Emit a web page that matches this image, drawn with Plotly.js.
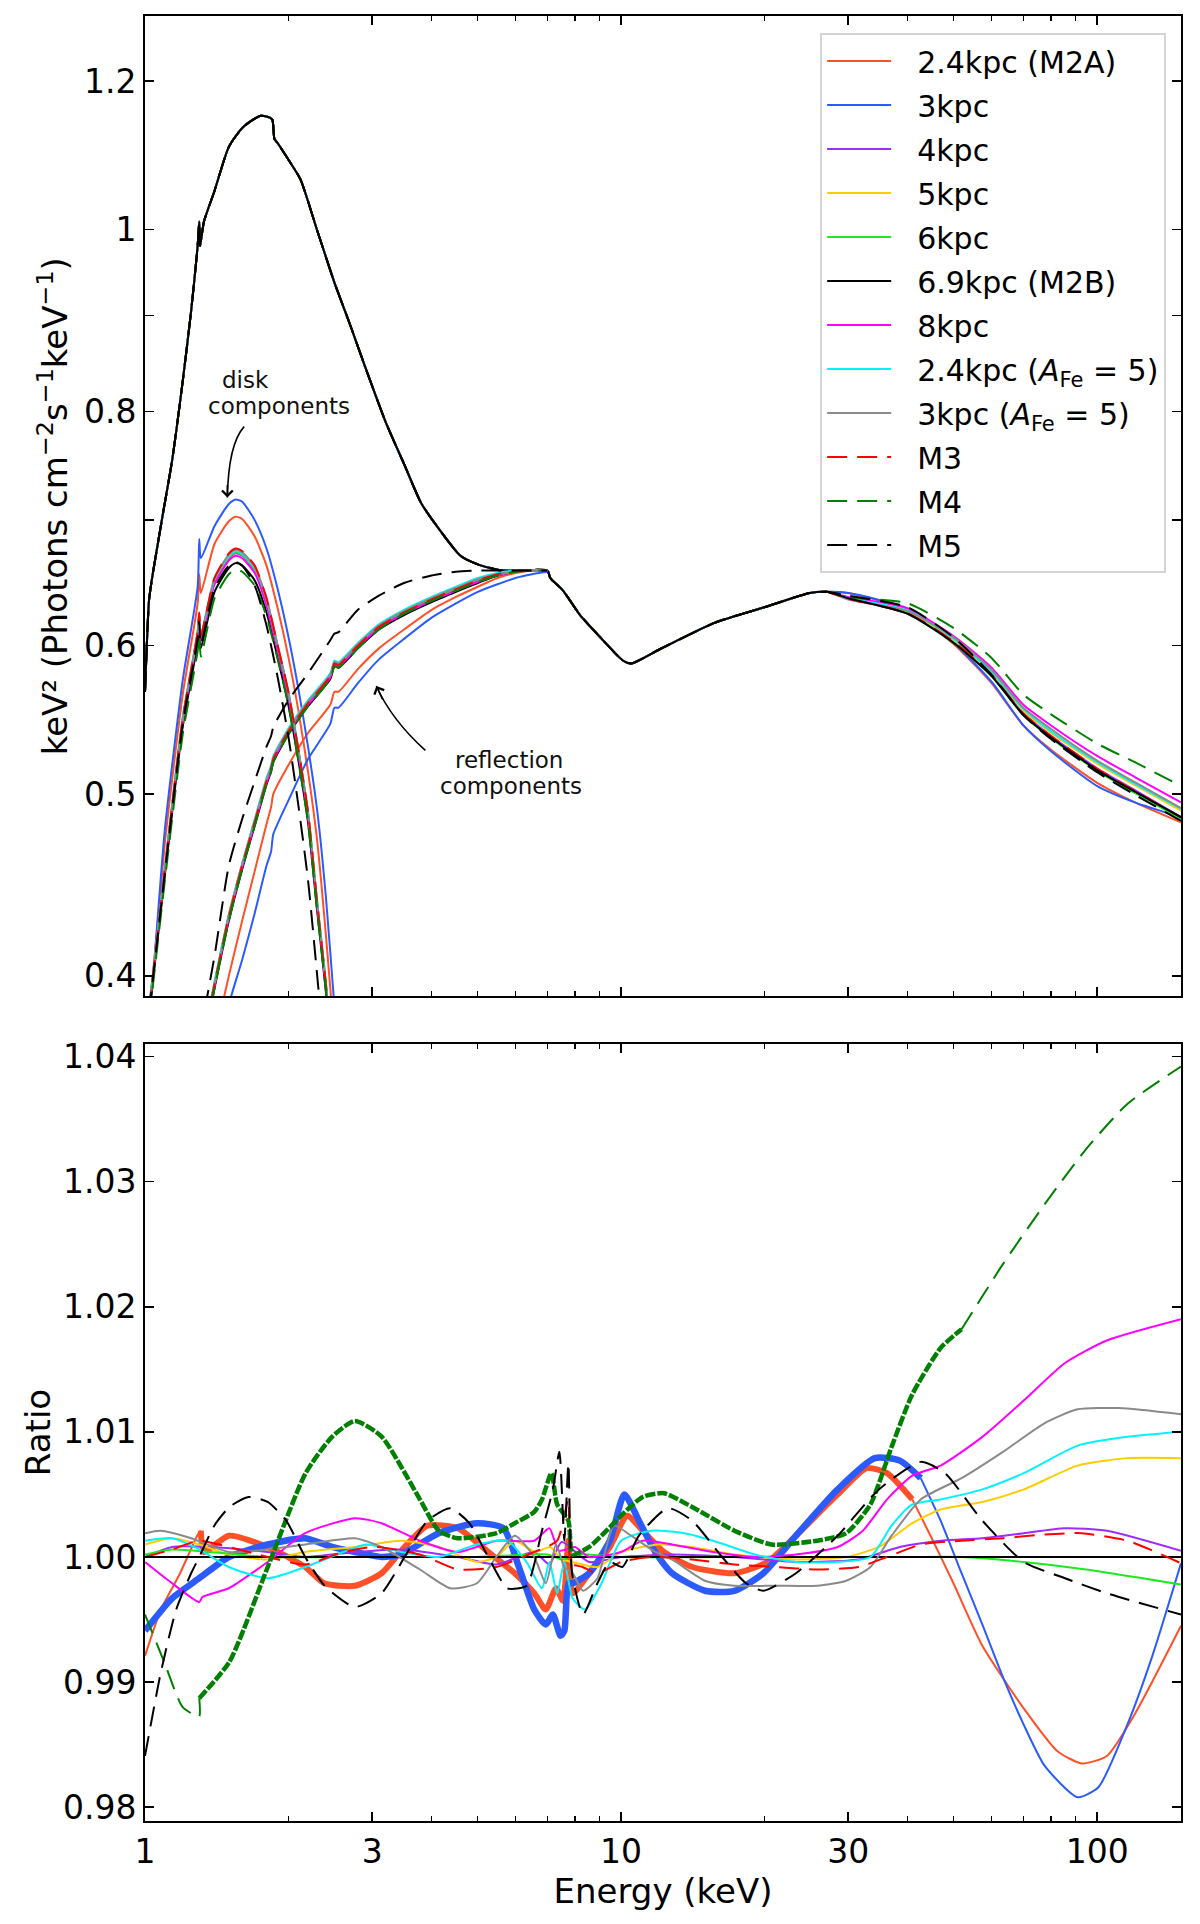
<!DOCTYPE html>
<html>
<head>
<meta charset="utf-8">
<script src="https://cdn.plot.ly/plotly-3.0.1.min.js"></script>
<style>
  body { margin: 0; background: #fff; }
</style>
</head>
<body>
<div id="graph" style="width:1200px;height:1924px"></div>
<script>
/* global Plotly */

// ---- top panel: total spectrum (shared by all models below 30 keV) ----
const totalE = [1.0, 1.01, 1.02, 1.04, 1.09, 1.14, 1.2, 1.25, 1.29, 1.3, 1.305, 1.33, 1.4, 1.5, 1.6, 1.7, 1.75, 1.8, 1.85, 1.87, 1.9, 2.0, 2.12, 2.3, 2.5, 2.7, 2.9, 3.2, 3.5, 3.8, 4.1, 4.6, 5.0, 5.6, 6.2, 7.0, 7.1, 7.55, 8.2, 9.0, 10.1, 10.5, 12, 15.7, 20, 24.9, 27];
const totalV = [0.567, 0.605, 0.635, 0.657, 0.705, 0.753, 0.83, 0.905, 0.98, 1.01, 0.98, 1.01, 1.049, 1.107, 1.133, 1.146, 1.150, 1.149, 1.145, 1.118, 1.112, 1.09, 1.064, 0.999, 0.937, 0.889, 0.845, 0.79, 0.750, 0.715, 0.695, 0.670, 0.663, 0.658, 0.658, 0.658, 0.652, 0.642, 0.623, 0.607, 0.589, 0.587, 0.597, 0.617, 0.629, 0.640, 0.641];

// high-energy tails, one per model
const tailE = [30, 40, 50, 60, 70, 80, 100, 120, 150];
const tailM2A = [0.640, 0.627, 0.601, 0.573, 0.544, 0.528, 0.507, 0.495, 0.483];
const tail3 = [0.640, 0.628, 0.602, 0.574, 0.544, 0.527, 0.505, 0.495, 0.486];
const tail4 = [0.636, 0.624, 0.603, 0.579, 0.552, 0.537, 0.516, 0.5025, 0.486];
const tail5 = [0.636, 0.6255, 0.604, 0.5805, 0.554, 0.539, 0.519, 0.5055, 0.490];
const tail6 = [0.636, 0.624, 0.602, 0.578, 0.551, 0.5356, 0.5145, 0.5007, 0.485];
const tailM2B = [0.636, 0.624, 0.602, 0.578, 0.551, 0.536, 0.515, 0.5015, 0.486];
const tail8 = [0.637, 0.628, 0.607, 0.584, 0.558, 0.544, 0.524, 0.5106, 0.495];
const tail24Fe = [0.636, 0.6265, 0.605, 0.581, 0.555, 0.540, 0.520, 0.5064, 0.491];
const tail3Fe = [0.635, 0.626, 0.606, 0.5825, 0.556, 0.5416, 0.521, 0.5074, 0.4915];
const tailM3 = [0.6355, 0.6244, 0.603, 0.579, 0.552, 0.537, 0.516, 0.502, 0.486];
const tailM4 = [0.637, 0.632, 0.613, 0.591, 0.565, 0.5515, 0.532, 0.520, 0.505];
const tailM5 = [0.638, 0.629, 0.606, 0.579, 0.551, 0.535, 0.5136, 0.4997, 0.4838];

// disk components
const diskE = [1.0, 1.03, 1.1, 1.2, 1.29, 1.3, 1.31, 1.4, 1.5, 1.55, 1.6, 1.7, 1.8, 1.9, 2.0, 2.1, 2.2, 2.3, 2.4, 2.5, 2.6];
const diskM2A = [0.368, 0.39, 0.47, 0.565, 0.632, 0.655, 0.640, 0.680, 0.699, 0.703, 0.701, 0.686, 0.662, 0.628, 0.592, 0.554, 0.514, 0.472, 0.42, 0.37, 0.33];
const disk3 = [0.365, 0.388, 0.478, 0.575, 0.645, 0.684, 0.668, 0.695, 0.714, 0.718, 0.716, 0.700, 0.676, 0.643, 0.607, 0.569, 0.530, 0.490, 0.44, 0.385, 0.34];
const disk4 = [0.37, 0.392, 0.455, 0.547, 0.608, 0.622, 0.605, 0.649, 0.668, 0.672, 0.670, 0.658, 0.632, 0.597, 0.564, 0.526, 0.487, 0.436, 0.394, 0.35, 0.31];
const disk5 = [0.37, 0.392, 0.455, 0.548, 0.609, 0.623, 0.606, 0.650, 0.669, 0.673, 0.671, 0.659, 0.633, 0.598, 0.565, 0.527, 0.488, 0.437, 0.395, 0.35, 0.31];
const disk6 = [0.37, 0.392, 0.455, 0.548, 0.609, 0.623, 0.606, 0.650, 0.669, 0.673, 0.671, 0.659, 0.633, 0.599, 0.566, 0.527, 0.488, 0.437, 0.395, 0.35, 0.31];
const diskM2B = [0.368, 0.39, 0.452, 0.543, 0.602, 0.615, 0.598, 0.641, 0.660, 0.664, 0.662, 0.650, 0.625, 0.591, 0.558, 0.521, 0.483, 0.433, 0.392, 0.35, 0.31];
const disk8 = [0.37, 0.392, 0.454, 0.546, 0.607, 0.620, 0.603, 0.647, 0.666, 0.670, 0.668, 0.656, 0.630, 0.596, 0.563, 0.525, 0.486, 0.435, 0.394, 0.35, 0.31];
const disk24Fe = [0.371, 0.393, 0.456, 0.549, 0.610, 0.624, 0.607, 0.651, 0.670, 0.674, 0.672, 0.660, 0.635, 0.600, 0.567, 0.528, 0.489, 0.438, 0.396, 0.351, 0.31];
const disk3Fe = [0.371, 0.393, 0.456, 0.549, 0.611, 0.625, 0.608, 0.652, 0.671, 0.675, 0.673, 0.661, 0.636, 0.600, 0.567, 0.528, 0.489, 0.438, 0.396, 0.351, 0.31];
const diskM3 = [0.37, 0.392, 0.455, 0.548, 0.610, 0.625, 0.607, 0.652, 0.672, 0.676, 0.674, 0.662, 0.636, 0.600, 0.567, 0.528, 0.489, 0.437, 0.395, 0.35, 0.31];
const diskM4 = [0.366, 0.388, 0.449, 0.538, 0.596, 0.608, 0.592, 0.636, 0.655, 0.659, 0.657, 0.646, 0.622, 0.590, 0.558, 0.521, 0.483, 0.433, 0.392, 0.35, 0.31];
const diskM5 = [0.369, 0.391, 0.453, 0.545, 0.605, 0.618, 0.601, 0.644, 0.662, 0.665, 0.662, 0.646, 0.615, 0.577, 0.537, 0.493, 0.450, 0.400, 0.355, 0.31, 0.27];

// reflection components
const reflE = [1.3, 1.4, 1.5, 1.6, 1.7, 1.8, 1.84, 1.86, 2.0, 2.2, 2.45, 2.5, 2.55, 2.8, 3.1, 3.5, 4.0, 4.5, 5.0, 5.5, 6.0, 6.5, 7.0];
const reflM2A = [0.34, 0.37, 0.40, 0.428, 0.455, 0.482, 0.492, 0.500, 0.518, 0.539, 0.558, 0.567, 0.567, 0.583, 0.598, 0.612, 0.627, 0.637, 0.645, 0.652, 0.656, 0.658, 0.658];
const refl3 = [0.32, 0.35, 0.386, 0.408, 0.432, 0.458, 0.466, 0.476, 0.496, 0.522, 0.545, 0.556, 0.556, 0.573, 0.590, 0.605, 0.621, 0.632, 0.641, 0.647, 0.652, 0.655, 0.657];
const refl4 = [0.359, 0.395, 0.429, 0.457, 0.482, 0.507, 0.515, 0.521, 0.539, 0.558, 0.577, 0.586, 0.585, 0.599, 0.613, 0.624, 0.634, 0.642, 0.649, 0.654, 0.657, 0.658, 0.658];
const refl5 = [0.36, 0.396, 0.430, 0.458, 0.483, 0.508, 0.516, 0.522, 0.540, 0.559, 0.578, 0.587, 0.586, 0.600, 0.614, 0.625, 0.635, 0.643, 0.650, 0.654, 0.657, 0.658, 0.658];
const refl6 = [0.361, 0.397, 0.431, 0.458, 0.483, 0.508, 0.516, 0.522, 0.540, 0.559, 0.578, 0.587, 0.586, 0.600, 0.614, 0.625, 0.635, 0.643, 0.650, 0.655, 0.657, 0.658, 0.658];
const reflM2B = [0.358, 0.394, 0.428, 0.456, 0.481, 0.506, 0.514, 0.520, 0.538, 0.557, 0.576, 0.585, 0.584, 0.598, 0.612, 0.623, 0.633, 0.641, 0.648, 0.654, 0.657, 0.658, 0.658];
const refl8 = [0.359, 0.395, 0.429, 0.457, 0.482, 0.507, 0.515, 0.521, 0.539, 0.558, 0.577, 0.586, 0.585, 0.599, 0.613, 0.624, 0.634, 0.642, 0.649, 0.654, 0.657, 0.658, 0.658];
const refl24Fe = [0.361, 0.397, 0.431, 0.459, 0.485, 0.510, 0.518, 0.524, 0.542, 0.561, 0.580, 0.589, 0.588, 0.602, 0.616, 0.627, 0.637, 0.645, 0.652, 0.656, 0.658, 0.658, 0.658];
const refl3Fe = [0.36, 0.396, 0.431, 0.459, 0.484, 0.509, 0.517, 0.523, 0.541, 0.560, 0.579, 0.588, 0.587, 0.601, 0.615, 0.626, 0.636, 0.644, 0.651, 0.655, 0.657, 0.658, 0.658];
const reflM3 = [0.36, 0.396, 0.430, 0.458, 0.483, 0.508, 0.516, 0.522, 0.540, 0.559, 0.578, 0.587, 0.586, 0.600, 0.614, 0.625, 0.635, 0.643, 0.650, 0.655, 0.657, 0.658, 0.658];
const reflM4 = [0.358, 0.394, 0.428, 0.456, 0.481, 0.506, 0.514, 0.520, 0.538, 0.557, 0.576, 0.585, 0.584, 0.598, 0.612, 0.624, 0.634, 0.642, 0.649, 0.654, 0.657, 0.658, 0.658];
const reflM5 = [0.37, 0.41, 0.458, 0.485, 0.508, 0.530, 0.537, 0.543, 0.561, 0.580, 0.604, 0.609, 0.610, 0.627, 0.638, 0.648, 0.654, 0.657, 0.658, 0.658, 0.658, 0.658, 0.658];

// ---- bottom panel: ratio to 6.9kpc (M2B) ----
const ratioM2AE = [1, 1.08, 1.185, 1.287, 1.31, 1.33, 1.5, 1.81, 2.17, 2.38, 2.76, 3.14, 3.51, 3.92, 4.54, 5.26, 5.98, 6.57, 6.95, 7.3, 7.55, 7.75, 7.91, 8.57, 9.47, 10.3, 11.1, 12.3, 14.1, 17.3, 20.3, 23.3, 28.5, 32.8, 36.2, 40.9, 45.2, 49.9, 57.4, 70.1, 82.4, 92.8, 104.8, 120.2, 150];
const ratioM2A = [0.9921, 0.9958, 0.9987, 1.0017, 1.0021, 1.0004, 1.0017, 1.0008, 0.9992, 0.9979, 0.9977, 0.9987, 1.0008, 1.0025, 1.0023, 1.0004, 0.9987, 0.9971, 0.9958, 0.9975, 0.9965, 1.0013, 0.9971, 0.9987, 1.0008, 1.0033, 1.0021, 1.0004, 0.9992, 0.9987, 0.9996, 1.0017, 1.005, 1.0071, 1.0067, 1.0046, 1.0013, 0.9979, 0.9929, 0.9879, 0.9845, 0.9835, 0.9841, 0.9875, 0.9945];
const ratio3E = [1, 1.14, 1.3, 1.5, 1.81, 2.17, 2.47, 2.76, 3.14, 3.45, 4.14, 4.98, 5.66, 6.1, 6.57, 6.95, 7.19, 7.46, 7.6, 7.75, 7.91, 8.57, 9.47, 10.16, 10.9, 11.8, 12.8, 15, 17.3, 19.9, 23.3, 28.5, 34.1, 38.5, 42.6, 46.9, 51.9, 57.4, 63.4, 70.1, 77.6, 91, 100.6, 115.7, 130.6, 150];
const ratio3 = [0.9941, 0.9967, 0.9983, 1.0, 1.001, 1.0015, 1.0008, 1.0004, 1.0, 1.0002, 1.0019, 1.0027, 1.0023, 0.9992, 0.9958, 0.9946, 0.9954, 0.9937, 0.9941, 0.9979, 0.9979, 0.9987, 1.0013, 1.005, 1.0029, 1.0004, 0.9987, 0.9973, 0.9973, 0.9987, 1.0017, 1.0054, 1.0079, 1.0077, 1.0063, 1.0029, 0.9987, 0.9946, 0.9904, 0.9866, 0.9833, 0.9808, 0.9816, 0.9866, 0.9921, 0.9995];
const ratio4E = [1, 1.14, 1.37, 1.81, 2.17, 2.76, 3.45, 4.54, 5.47, 6.57, 7.07, 7.5, 8.57, 10, 12.8, 17.3, 23.3, 31.5, 38.5, 46.9, 57.4, 70.1, 85.6, 104.8, 150];
const ratio4 = [1.0, 1.0008, 1.0008, 1.0004, 1.0, 1.0004, 1.0006, 1.0, 0.9994, 1.0004, 0.9994, 1.0012, 0.9996, 1.0, 1.0002, 1.0, 0.9996, 0.9998, 1.0008, 1.0013, 1.0015, 1.0019, 1.0023, 1.0021, 1.0005];
const ratio5E = [1, 1.14, 1.3, 1.5, 1.81, 2.17, 2.76, 3.45, 4.14, 4.98, 5.47, 5.98, 6.6, 7.1, 7.5, 7.91, 8.92, 10, 12, 14.1, 17.3, 23.3, 29.7, 34.8, 40.9, 46.9, 57.4, 70.1, 91, 115.7, 150];
const ratio5 = [1.001, 1.0015, 1.001, 1.0002, 0.9998, 1.0004, 1.0008, 1.0013, 1.0008, 0.9996, 1.0, 1.0013, 1.0004, 1.0008, 0.9998, 0.9996, 0.9992, 1.0004, 1.001, 1.0008, 1.0002, 0.9998, 1.0, 1.0008, 1.0027, 1.0038, 1.0044, 1.0054, 1.0073, 1.0079, 1.0079];
const ratio6E = [1, 1.14, 1.37, 1.8, 3, 5, 7, 7.5, 8, 10, 20, 30, 40, 51.9, 70.1, 94.8, 150];
const ratio6 = [1.0002, 1.0006, 1.0004, 1.0, 1.0, 1.0, 1.0002, 0.9998, 1.0002, 1.0, 1.0, 1.0, 1.0, 1.0, 0.9996, 0.999, 0.9978];
const ratioM2BE = [1, 150];
const ratioM2B = [1.0, 1.0];
const ratio8E = [1, 1.14, 1.3, 1.32, 1.5, 1.81, 2.17, 2.76, 3.14, 3.78, 4.54, 5.47, 6.57, 7.07, 7.4, 8, 8.57, 10, 11.1, 12.8, 15.6, 19.1, 23.3, 28.5, 32.2, 36.2, 40.9, 46.9, 57.4, 70.1, 85.6, 104.8, 150];
const ratio8 = [0.9996, 0.9979, 0.9964, 0.9968, 0.9975, 0.9996, 1.0019, 1.0031, 1.0027, 1.0013, 1.0004, 1.0013, 1.0013, 1.0023, 1.0005, 1.0008, 1.0, 1.0004, 1.0013, 1.001, 1.0004, 1.0, 1.0002, 1.0008, 1.0021, 1.0046, 1.0065, 1.0073, 1.0096, 1.0125, 1.0155, 1.0173, 1.019];
const ratio24FeE = [1, 1.14, 1.3, 1.5, 1.81, 2.17, 2.61, 2.92, 3.45, 4.14, 4.98, 5.77, 6.33, 6.82, 7.07, 7.34, 7.6, 7.91, 8.4, 9.1, 10, 11.6, 13.6, 15.6, 19.1, 23.3, 28.5, 33.4, 37, 40.9, 46.9, 57.4, 70.1, 91, 115.7, 150];
const ratio24Fe = [1.0013, 1.0015, 1.0006, 0.9992, 0.9983, 0.9992, 1.0004, 1.001, 1.0004, 1.0, 1.001, 1.0013, 0.9996, 0.9975, 0.9996, 0.9971, 0.9996, 0.9967, 0.9958, 0.9979, 1.0013, 1.0021, 1.0019, 1.0013, 1.0002, 0.9996, 0.9996, 1.0, 1.0025, 1.0042, 1.0046, 1.0054, 1.0067, 1.0089, 1.0096, 1.01];
const ratio3FeE = [1, 1.08, 1.25, 1.5, 1.81, 2.17, 2.76, 3.14, 3.78, 4.38, 4.98, 5.47, 5.98, 6.57, 6.95, 7.3, 7.6, 7.91, 8.32, 8.92, 9.66, 10.5, 11.8, 12.8, 15, 17.3, 21.1, 25.8, 29.7, 33.4, 37, 42.6, 51.9, 63.4, 77.6, 91, 111.2, 150];
const ratio3Fe = [1.0019, 1.0021, 1.0015, 1.0004, 1.0006, 1.001, 1.0015, 1.0008, 0.999, 0.9975, 0.9979, 1.0, 1.0017, 1.0, 0.9979, 1.001, 0.9992, 0.9987, 0.9973, 0.9983, 1.0025, 1.0017, 1.0004, 0.9998, 0.9981, 0.9977, 0.9977, 0.9977, 0.9981, 0.9992, 1.0017, 1.0046, 1.0063, 1.0084, 1.0107, 1.0118, 1.0119, 1.0114];
const ratioM3E = [1, 1.14, 1.3, 1.5, 1.81, 2.17, 2.61, 3.03, 3.78, 4.54, 5.47, 6.57, 7.34, 7.75, 7.85, 8.3, 8.92, 10, 11.6, 14.1, 17.3, 21.1, 25.8, 31.5, 36.2, 42.6, 51.9, 63.4, 77.6, 92.8, 115.7, 150];
const ratioM3 = [1.0, 1.0006, 1.0013, 1.0008, 1.0, 0.9994, 1.0004, 1.0008, 1.0002, 0.999, 0.9992, 1.0004, 1.0013, 1.0046, 0.9995, 0.9992, 0.9987, 0.9996, 1.0, 0.9998, 0.9994, 0.9992, 0.999, 0.9992, 1.0, 1.001, 1.0013, 1.0015, 1.0018, 1.0019, 1.0013, 0.9995];
const ratioM4E = [1, 1.1, 1.2, 1.299, 1.3, 1.505, 1.809, 2.174, 2.474, 2.76, 3.14, 3.78, 4.14, 4.54, 5.47, 5.98, 6.57, 6.82, 7.14, 7.34, 7.75, 7.91, 8.57, 9.1, 10, 11.1, 12.3, 14.1, 17.3, 20.7, 25.8, 29.7, 33.4, 37, 40.9, 46.9, 51.9, 63.4, 77.6, 94.8, 115.7, 150];
const ratioM4 = [0.9954, 0.9915, 0.9880, 0.98725, 0.98871, 0.99164, 0.99916, 1.00669, 1.00962, 1.01087, 1.00962, 1.0046, 1.0021, 1.0015, 1.0019, 1.0027, 1.0036, 1.0046, 1.0067, 1.0042, 1.0029, 1.0002, 1.0008, 1.0017, 1.0033, 1.0048, 1.0051, 1.004, 1.0021, 1.001, 1.0013, 1.0019, 1.0042, 1.0088, 1.013, 1.0167, 1.0182, 1.0234, 1.0282, 1.0326, 1.0362, 1.0392];
const ratioM5E = [1, 1.08, 1.163, 1.25, 1.3, 1.398, 1.505, 1.65, 1.81, 1.98, 2.17, 2.384, 2.76, 3.14, 3.51, 3.92, 4.38, 4.8, 5.26, 5.77, 6.33, 6.82, 7.19, 7.42, 7.6, 7.75, 7.89, 8.32, 8.92, 9.47, 10.06, 10.9, 12.54, 14.1, 16.3, 18.3, 19.9, 23.3, 28.5, 34.8, 42.6, 47.9, 57.4, 70.1, 85.6, 104.8, 150];
const ratioM5 = [0.9841, 0.9908, 0.9958, 0.9987, 1.0, 1.0025, 1.004, 1.0048, 1.0044, 1.0029, 1.0, 0.9977, 0.996, 0.9971, 1.0, 1.0029, 1.0039, 1.0027, 1.0, 0.9975, 0.9977, 1.0021, 1.0054, 1.0084, 1.0013, 1.0075, 0.9987, 0.9954, 0.9979, 0.9996, 0.9992, 1.0017, 1.0039, 1.0029, 1.0, 0.9979, 0.9973, 0.9987, 1.0017, 1.0054, 1.0076, 1.0067, 1.0029, 0.9996, 0.9983, 0.9971, 0.9954];

// ---- ticks ----
const xMajor = [1, 3, 10, 30, 100];
const xMajorText = ["1", "3", "10", "30", "100"];
const xMinor = [2, 4, 5, 6, 7, 8, 9, 20, 40, 50, 60, 70, 80, 90];
const specTicks = [0.4, 0.5, 0.6, 0.7, 0.8, 0.9, 1, 1.2];
const specTickText = ["0.4", "0.5", "0.6", "", "0.8", "", "1", "1.2"];
const ratioTicks = [0.98, 0.99, 1.0, 1.01, 1.02, 1.03, 1.04];
const ratioTickText = ["0.98", "0.99", "1.00", "1.01", "1.02", "1.03", "1.04"];

const DASH = "20px,10px";

const series = [
	{ name: "2.4kpc (M2A)", color: "#ff5028", dash: "solid", tail: tailM2A, disk: diskM2A, refl: reflM2A, rE: ratioM2AE, rV: ratioM2A, noisy: [1.31, 40.9], noisyWidth: 6 },
	{ name: "3kpc", color: "#2b5bff", dash: "solid", tail: tail3, disk: disk3, refl: refl3, rE: ratio3E, rV: ratio3, noisy: [1, 42.6], noisyWidth: 6.5 },
	{ name: "4kpc", color: "#9d2cff", dash: "solid", tail: tail4, disk: disk4, refl: refl4, rE: ratio4E, rV: ratio4 },
	{ name: "5kpc", color: "#ffcc00", dash: "solid", tail: tail5, disk: disk5, refl: refl5, rE: ratio5E, rV: ratio5 },
	{ name: "6kpc", color: "#1ee81e", dash: "solid", tail: tail6, disk: disk6, refl: refl6, rE: ratio6E, rV: ratio6 },
	{ name: "6.9kpc (M2B)", color: "#000000", dash: "solid", tail: tailM2B, disk: diskM2B, refl: reflM2B, rE: ratioM2BE, rV: ratioM2B },
	{ name: "8kpc", color: "#ff00ff", dash: "solid", tail: tail8, disk: disk8, refl: refl8, rE: ratio8E, rV: ratio8 },
	{ name: "2.4kpc (<i>A</i><sub>Fe</sub> = 5)", color: "#00f2ff", dash: "solid", tail: tail24Fe, disk: disk24Fe, refl: refl24Fe, rE: ratio24FeE, rV: ratio24Fe },
	{ name: "3kpc (<i>A</i><sub>Fe</sub> = 5)", color: "#8a8a8a", dash: "solid", tail: tail3Fe, disk: disk3Fe, refl: refl3Fe, rE: ratio3FeE, rV: ratio3Fe },
	{ name: "M3", color: "#ff0000", dash: DASH, tail: tailM3, disk: diskM3, refl: reflM3, rE: ratioM3E, rV: ratioM3 },
	{ name: "M4", color: "#008000", dash: DASH, tail: tailM4, disk: diskM4, refl: reflM4, rE: ratioM4E, rV: ratioM4, noisy: [1.3, 51.9], noisyWidth: 4.5, noisyDash: "10px,2px" },
	{ name: "M5", color: "#000000", dash: DASH, tail: tailM5, disk: diskM5, refl: reflM5, rE: ratioM5E, rV: ratioM5 },
];
series.forEach((s, i) => { s.rank = i + 1; });

const LW = 2;

function lineTrace(s, x, y, axes, extra) {
	return {
		type: "scatter",
		mode: "lines",
		x,
		y,
		xaxis: axes[0],
		yaxis: axes[1],
		name: "\u2002\u2009" + s.name,
		legendgroup: s.name,
		legendrank: s.rank,
		showlegend: false,
		hoverinfo: "skip",
		line: { color: s.color, width: LW, dash: s.dash, shape: "spline", smoothing: 0.6 },
		...extra,
	};
}

function slice(E, V, lo, hi) {
	const x = [];
	const y = [];
	E.forEach((e, i) => {
		if (e >= lo && e <= hi) {
			x.push(e);
			y.push(V[i]);
		}
	});
	return { x, y };
}

const traces = [];

// totals: the 6.9kpc reference is drawn last so the common curve reads black
const totalOrder = series.filter(s => s.name !== "6.9kpc (M2B)").concat(series.filter(s => s.name === "6.9kpc (M2B)"));
for (const s of totalOrder) {
	traces.push(lineTrace(s, totalE.concat(tailE), totalV.concat(s.tail), ["x", "y"], { showlegend: true }));
}
for (const s of series) {
	traces.push(lineTrace(s, diskE, s.disk, ["x", "y"]));
	traces.push(lineTrace(s, reflE, s.refl, ["x", "y"]));
}

// ratios
for (const s of series) {
	if (!s.noisy) {
		traces.push(lineTrace(s, s.rE, s.rV, ["x2", "y2"]));
		continue;
	}
	const [lo, hi] = s.noisy;
	const before = slice(s.rE, s.rV, 0, lo);
	const mid = slice(s.rE, s.rV, lo, hi);
	const after = slice(s.rE, s.rV, hi, 1000);
	if (before.x.length > 1) traces.push(lineTrace(s, before.x, before.y, ["x2", "y2"]));
	traces.push(lineTrace(s, mid.x, mid.y, ["x2", "y2"], {
		line: { color: s.color, width: s.noisyWidth, dash: s.noisyDash || "solid", shape: "spline", smoothing: 0.6 },
	}));
	if (after.x.length > 1) traces.push(lineTrace(s, after.x, after.y, ["x2", "y2"]));
}

const FONT = "DejaVu Sans, Verdana, sans-serif";
const tickFont = { family: FONT, size: 33, color: "#000" };
const titleFont = { family: FONT, size: 34, color: "#000" };

const axisCommon = {
	showline: true,
	linecolor: "#000",
	linewidth: 2,
	mirror: "ticks",
	ticks: "inside",
	ticklen: 9,
	tickwidth: 1.6,
	tickcolor: "#000",
	showgrid: false,
	zeroline: false,
	tickfont: tickFont,
	fixedrange: true,
};

const xCommon = {
	...axisCommon,
	type: "log",
	range: [0, Math.log10(150)],
	tickmode: "array",
	tickvals: xMajor,
	ticktext: xMajorText,
	minor: { tickmode: "array", tickvals: xMinor, ticks: "inside", ticklen: 5, tickwidth: 1.3, tickcolor: "#000", showgrid: false },
};

const annotFont = { family: FONT, size: 23, color: "#111" };
const note = (x, y, text) => ({ xref: "paper", yref: "paper", x, y, text, showarrow: false, xanchor: "center", yanchor: "middle", font: annotFont });
const arrowHead = (x, y, ax, ay) => ({ xref: "paper", yref: "paper", x, y, ax, ay, text: "", showarrow: true, arrowhead: 4, arrowsize: 1.3, arrowwidth: 1.6, arrowcolor: "#000" });

const layout = {
	width: 1200,
	height: 1924,
	margin: { l: 145, r: 19, t: 16, b: 103 },
	paper_bgcolor: "#fff",
	plot_bgcolor: "#fff",
	font: { family: FONT, color: "#000" },
	hovermode: false,
	showlegend: true,
	xaxis: { ...xCommon, anchor: "y", showticklabels: false },
	xaxis2: {
		...xCommon,
		anchor: "y2",
		matches: "x",
		ticklabelstandoff: 0,
		title: { text: "Energy (keV)", font: titleFont, standoff: 4 },
	},
	yaxis: {
		...axisCommon,
		type: "log",
		domain: [0.4568, 1],
		range: [Math.log10(0.39), Math.log10(1.3)],
		tickmode: "array",
		tickvals: specTicks,
		ticktext: specTickText,
		ticklabelstandoff: 0,
		title: {
			text: "keV² (Photons cm<sup>−2</sup>s<sup>−1</sup>keV<sup>−1</sup>)",
			font: titleFont,
			standoff: 6,
		},
	},
	yaxis2: {
		...axisCommon,
		domain: [0, 0.4305],
		range: [0.9789, 1.041],
		tickmode: "array",
		tickvals: ratioTicks,
		ticktext: ratioTickText,
		ticklabelstandoff: 0,
		title: { text: "Ratio", font: titleFont, standoff: 2 },
	},
	legend: {
		x: 0.6517,
		y: 0.9906,
		xanchor: "left",
		yanchor: "top",
		bgcolor: "rgba(255,255,255,0.85)",
		bordercolor: "#d4d4d4",
		borderwidth: 2,
		font: { family: FONT, size: 30, color: "#000" },
		traceorder: "grouped",
		tracegroupgap: 2,
		itemwidth: 64,
	},
	shapes: [
		{ type: "path", xref: "paper", yref: "paper", path: "M0.0957,0.7725 Q0.0805,0.7629 0.0795,0.7332", line: { color: "#000", width: 1.6 } },
		{ type: "path", xref: "paper", yref: "paper", path: "M0.2706,0.5931 Q0.2379,0.6101 0.2233,0.6288", line: { color: "#000", width: 1.6 } },
	],
	annotations: [
		note(0.0969, 0.7983, "disk"),
		note(0.1293, 0.7839, "components"),
		note(0.3513, 0.5878, "reflection"),
		note(0.3535, 0.5736, "components"),
		arrowHead(0.0795, 0.7332, 0, -14),
		arrowHead(0.2233, 0.6288, 7, 15),
	],
};

const config = { displayModeBar: false, staticPlot: true };

Plotly.newPlot("graph", traces, layout, config);
</script>
</body>
</html>
